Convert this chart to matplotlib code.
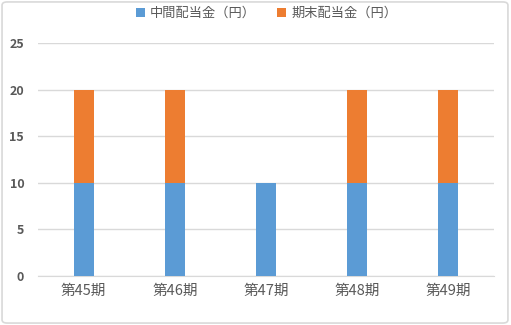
import matplotlib
matplotlib.use("Agg")
from matplotlib import pyplot as plt
from matplotlib.patches import FancyBboxPatch

plt.rcParams['font.family'] = ['Noto Sans CJK JP', 'DejaVu Sans']

periods = ['第45期', '第46期', '第47期', '第48期', '第49期']
interim = [10, 10, 10, 10, 10]
year_end = [10, 10, 0, 10, 10]

blue = '#5B9BD5'
orange = '#ED7D31'
text_color = '#595959'

fig = plt.figure(figsize=(5.11, 3.25), dpi=100)
ax = fig.add_axes([0.0744, 0.1508, 0.8923, 0.7169])

x = list(range(len(periods)))
ax.bar(x, interim, width=0.22, color=blue, label='中間配当金（円）', zorder=3)
ax.bar(x, year_end, width=0.22, bottom=interim, color=orange, label='期末配当金（円）', zorder=3)

ax.set_xlim(-0.5, len(periods) - 0.5)
ax.set_ylim(0, 25)
ax.set_yticks([0, 5, 10, 15, 20, 25])
ax.set_xticks(x)
ax.set_xticklabels(periods, fontsize=10.5, color=text_color)
for lbl in ax.get_yticklabels():
    lbl.set_fontsize(9)
    lbl.set_color(text_color)
    lbl.set_fontweight('bold')

ax.grid(axis='y', color='#D9D9D9', linewidth=1, zorder=0)
for s in ['top', 'right', 'left']:
    ax.spines[s].set_visible(False)
ax.spines['bottom'].set_color('#D9D9D9')
ax.tick_params(axis='y', length=0, pad=10)
ax.tick_params(axis='x', length=0, pad=6)

fig.legend(loc='upper center', bbox_to_anchor=(0.522, 1.015), ncol=2, frameon=False,
           fontsize=9.5, labelcolor=text_color, handlelength=0.65, handleheight=0.65,
           handletextpad=0.4, columnspacing=1.6)

border = FancyBboxPatch((0.004, 0.006), 0.99, 0.988, boxstyle='round,pad=0,rounding_size=0.01',
                        transform=fig.transFigure, facecolor='none', edgecolor='#D9D9D9',
                        linewidth=1.2)
fig.patches.append(border)

fig.savefig('out.png', dpi=100)
